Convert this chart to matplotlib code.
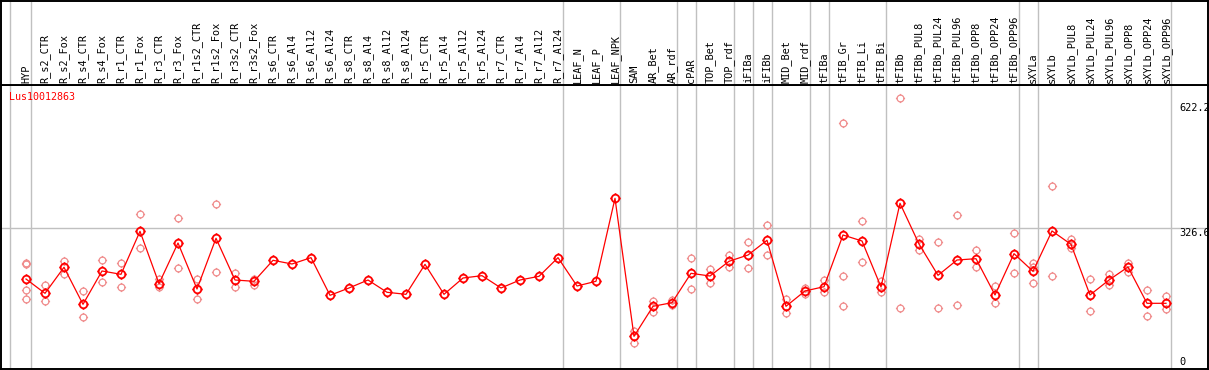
import matplotlib
matplotlib.use("Agg")
import matplotlib.pyplot as plt
from matplotlib.path import Path
import numpy as np

# ---------------- data ----------------
categories = ["HYP", "R_s2_CTR", "R_s2_Fox", "R_s4_CTR", "R_s4_Fox", "R_r1_CTR", "R_r1_Fox",
              "R_r3_CTR", "R_r3_Fox", "R_r1s2_CTR", "R_r1s2_Fox", "R_r3s2_CTR", "R_r3s2_Fox",
              "R_s6_CTR", "R_s6_Al4", "R_s6_Al12", "R_s6_Al24", "R_s8_CTR", "R_s8_Al4",
              "R_s8_Al12", "R_s8_Al24", "R_r5_CTR", "R_r5_Al4", "R_r5_Al12", "R_r5_Al24",
              "R_r7_CTR", "R_r7_Al4", "R_r7_Al12", "R_r7_Al24", "LEAF_N", "LEAF_P", "LEAF_NPK",
              "SAM", "AR_Bet", "AR_rdf", "cPAR", "TOP_Bet", "TOP_rdf", "iFIBa", "iFIBb",
              "MID_Bet", "MID_rdf", "tFIBa", "tFIB_Gr", "tFIB_Li", "tFIB_Bi", "tFIBb",
              "tFIBb_PUL8", "tFIBb_PUL24", "tFIBb_PUL96", "tFIBb_OPP8", "tFIBb_OPP24",
              "tFIBb_OPP96", "sXYLa", "sXYLb", "sXYLb_PUL8", "sXYLb_PUL24", "sXYLb_PUL96",
              "sXYLb_OPP8", "sXYLb_OPP24", "sXYLb_OPP96"]

means = [209.7, 176.7, 236.7, 151.4, 228.2, 220.5, 319.6, 199.0, 292.7, 186.7, 303.5, 207.4,
         204.4, 252.8, 244.3, 258.9, 172.1, 189.0, 207.4, 179.1, 174.4, 243.5, 174.4, 212.0,
         217.4, 189.0, 207.4, 215.9, 258.9, 193.6, 204.4, 395.6,
         77.6, 146.8, 155.1, 222.8, 216.6, 250.5, 265.0, 298.9,
         146.8, 182.1, 192.0, 311.1, 297.3, 191.3, 384.2,
         290.4, 218.2, 253.5, 256.5, 172.9, 268.1,
         227.4, 320.4, 289.6, 172.9, 207.4, 237.4, 153.7, 153.7]

replicates = [
    [247.0, 244.0, 183.7, 162.9],   # HYP
    [195.2, 158.3],                 # R_s2_CTR
    [251.2, 222.0],                 # R_s2_Fox
    [181.4, 122.1],                 # R_s4_CTR
    [252.8, 202.1],                 # R_s4_Fox
    [245.9, 192.0],                 # R_r1_CTR
    [358.8, 280.4],                 # R_r1_Fox
    [209.7, 192.0],                 # R_r3_CTR
    [349.5, 234.3],                 # R_r3_Fox
    [209.7, 162.9],                 # R_r1s2_CTR
    [381.8, 225.1],                 # R_r1s2_Fox
    [223.6, 192.0],                 # R_r3s2_CTR
    [210.0, 197.0],                 # R_r3s2_Fox
    [], [], [], [], [], [], [], [], [], [], [], [], [], [], [], [],   # R_s6_CTR .. R_r7_Al24
    [], [], [],                     # LEAF_N, LEAF_P, LEAF_NPK
    [90.6, 61.5],                   # SAM
    [159.8, 134.4],                 # AR_Bet
    [161.3, 149.8],                 # AR_rdf
    [257.4, 185.9],                 # cPAR
    [232.0, 199.8],                 # TOP_Bet
    [265.0, 236.7],                 # TOP_rdf
    [294.3, 234.3],                 # iFIBa
    [333.5, 264.3],                 # iFIBb
    [163.6, 130.7],                 # MID_Bet
    [189.7, 174.4],                 # MID_rdf
    [207.4, 179.8],                 # tFIBa
    [568.6, 215.9, 146.8],          # tFIB_Gr
    [342.7, 248.9],                 # tFIB_Li
    [205.1, 179.8],                 # tFIB_Bi
    [626.2, 142.2],                 # tFIBb
    [301.9, 275.9],                 # tFIBb_PUL8
    [294.3, 142.2],                 # tFIBb_PUL24
    [357.2, 149.1],                 # tFIBb_PUL96
    [275.9, 237.4],                 # tFIBb_OPP8
    [193.6, 153.7],                 # tFIBb_OPP24
    [315.0, 222.8],                 # tFIBb_OPP96
    [247.4, 237.4, 200.5],          # sXYLa
    [423.3, 215.9],                 # sXYLb
    [301.9, 280.4],                 # sXYLb_PUL8
    [209.0, 136.7],                 # sXYLb_PUL24
    [222.0, 195.2],                 # sXYLb_PUL96
    [245.9, 225.9],                 # sXYLb_OPP8
    [184.4, 123.8],                 # sXYLb_OPP24
    [170.5, 139.9],                 # sXYLb_OPP96
]

group_ends = [0, 28, 31, 34, 35, 37, 38, 39, 41, 42, 45, 52, 53, 60]
gene_name = "Lus10012863"
y_tick_values = [622.2, 326.6, 0]
y_tick_labels = ["622.2", "326.6", "0"]
ref_line_value = 326.6

# ---------------- layout ----------------
W, H = 1209, 370
fig = plt.figure(figsize=(W / 100, H / 100), dpi=100)

x_left = (1 - 26) / 19
x_right = (1208 - 26) / 19

ax = fig.add_axes([1 / W, 1 / H, 1207 / W, 284 / H])
hx = fig.add_axes([1 / W, 285 / H, 1207 / W, 84.5 / H])

ymin, ymax = 2.3, 656.8
ax.set_xlim(x_left, x_right)
ax.set_ylim(ymin, ymax)
hx.set_xlim(x_left, x_right)
hx.set_ylim(0, 1)

for a in (ax, hx):
    a.set_xticks([])
    a.set_yticks([])
    for s in a.spines.values():
        s.set_color("black")
        s.set_linewidth(1.4)

grey = "#c0c0c0"
line_pos = [-0.85] + [g + 0.25 for g in group_ends]
for xp in line_pos:
    ax.axvline(xp, color=grey, lw=1.0, zorder=1)
    hx.axvline(xp, color=grey, lw=1.0, zorder=1)
ax.axhline(ref_line_value, color=grey, lw=1.0, zorder=1)

# custom marker: ring with four little ticks
theta = np.linspace(0, 2 * np.pi, 33)
circ = Path(np.column_stack([np.cos(theta), np.sin(theta)]))
ticks = []
for (dx, dy) in [(1, 0), (-1, 0), (0, 1), (0, -1)]:
    ticks.append(Path([(dx * 1.0, dy * 1.0), (dx * 1.35, dy * 1.35)],
                      [Path.MOVETO, Path.LINETO]))
tick_marker = Path.make_compound_path(circ, *ticks)

x = np.arange(len(categories))

# replicates
rx, ry = [], []
for i, reps in enumerate(replicates):
    for v in reps:
        rx.append(i)
        ry.append(v)
ax.plot(rx, ry, linestyle="none", marker=tick_marker, markersize=6.6,
        markerfacecolor="none", markeredgecolor="#f08c8c", markeredgewidth=0.9, zorder=2)

# means
ax.plot(x, means, color="#ff0000", lw=0.9, zorder=3)
ax.plot(x, means, linestyle="none", marker=tick_marker, markersize=7.4,
        markerfacecolor="none", markeredgecolor="#ff0000", markeredgewidth=1.3, zorder=4)

# header labels
for i, name in enumerate(categories):
    hx.text(i, 2 / 84.5, name, rotation=90, ha="center", va="bottom",
            fontsize=7.4, family="DejaVu Sans Mono", color="black")

# gene name
ax.annotate(gene_name, xy=(0, 1), xycoords="axes fraction", xytext=(8, -7),
            textcoords="offset pixels", ha="left", va="top", fontsize=7.2,
            family="DejaVu Sans Mono", color="red")

# value labels at right
offsets = [-3, 0, 2]
vas = ["top", "top", "bottom"]
for v, lab, off, va in zip(y_tick_values, y_tick_labels, offsets, vas):
    yv = max(v, ymin)
    ax.annotate(lab, xy=(1, yv), xycoords=("axes fraction", "data"),
                xytext=(-29, off), textcoords="offset pixels", ha="left", va=va,
                fontsize=7.4, family="DejaVu Sans Mono", color="black", annotation_clip=False)

fig.savefig("out.png", dpi=100)
